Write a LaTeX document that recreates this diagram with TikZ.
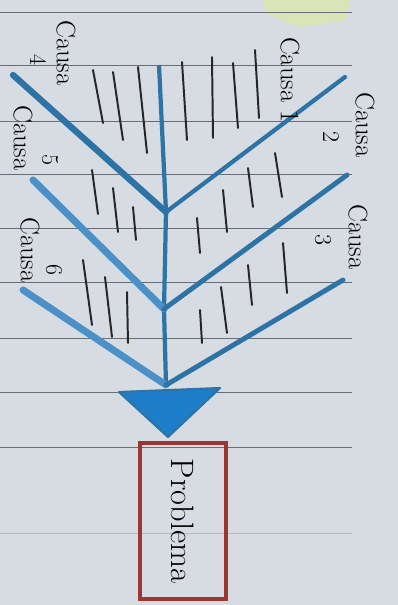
\documentclass[tikz,border=0pt]{standalone}
\usepackage{tikz}
\usepackage{xcolor}
\usetikzlibrary{positioning}
\definecolor{paperGray}{RGB}{214,220,226}
\definecolor{ruleGray}{RGB}{105,110,118}
\definecolor{boneBlue}{RGB}{45,115,165}
\definecolor{paleBlue}{RGB}{75,145,200}
\definecolor{headBlue}{RGB}{30,125,200}
\definecolor{boxRed}{RGB}{155,55,50}
\definecolor{markerYellow}{RGB}{222,240,120}

\begin{document}
\begin{tikzpicture}[x=0.025cm, y=-0.025cm,
			ruling/.style={
				ruleGray,
				line width=0.7pt
			},
			spine/.style={
				boneBlue,
				line width=3pt
			},
			bone/.style={
				boneBlue,
				line width=3.5pt,
				line cap=round
			},
			softbone/.style={
				paleBlue,
				line width=5pt,
				line cap=round
			},
			rib/.style={
				black!85,
				line width=1.4pt,
				line cap=round
			},
			cause/.style={
				rotate=-90,
				inner sep=0pt,
				font=\fontsize{19}{22}\selectfont
			},
			num/.style={
				rotate=-90,
				inner sep=0pt,
				font=\fontsize{17}{20}\selectfont
			},
			problembox/.style={
				rotate=-90,
				draw=boxRed,
				line width=3.5pt,
				minimum width=3.9cm,
				minimum height=2.15cm,
				inner sep=0pt,
				font=\fontsize{23}{26}\selectfont
			}
			]
			
			% Paper
			\useasboundingbox (0,0) rectangle (398,605);
			\fill[paperGray] (0,0) rectangle (398,605);
			\fill[markerYellow, opacity=0.4] (262,0) -- (350,0) -- (346,20) -- (300,27) -- (266,14) -- cycle;
			
			% Ruled lines
			\draw[ruling] (0,12) -- (352,12);
			\draw[ruling] (0,65) -- (352,65);
			\draw[ruling] (0,121) -- (352,121);
			\draw[ruling] (0,174) -- (352,174);
			\draw[ruling] (0,228) -- (352,228);
			\draw[ruling] (0,282) -- (352,282);
			\draw[ruling] (0,338) -- (352,338);
			\draw[ruling] (0,392) -- (352,392);
			\draw[ruling] (0,447) -- (352,447);
			\draw[ruling, opacity=0.3] (0,533) -- (352,533);
			
			% Spine and joints
			\coordinate (spineTop) at (159,65);
			\coordinate (jointA) at (166,212);
			\coordinate (jointB) at (164,309);
			\coordinate (jointC) at (166,385);
			
			% Bone ends
			\coordinate (endFour) at (13,75);
			\coordinate (endTwo) at (345,77);
			\coordinate (endFive) at (33,180);
			\coordinate (endThree) at (347,175);
			\coordinate (endSix) at (23,290);
			\coordinate (endLow) at (343,280);
			
			% Head
			\coordinate (headL) at (119,392);
			\coordinate (headR) at (220,388);
			\coordinate (headTip) at (168,437);
			
			% Ribs
			\draw[rib] (93,70) -- (103,123);
			\draw[rib] (113,72) -- (123,140);
			\draw[rib] (138,67) -- (147,153);
			\draw[rib] (182,62) -- (187,140);
			\draw[rib] (212,57) -- (213,138);
			\draw[rib] (233,63) -- (238,128);
			\draw[rib] (255,50) -- (259,118);
			\draw[rib] (92,170) -- (98,214);
			\draw[rib] (113,188) -- (118,232);
			\draw[rib] (133,207) -- (136,240);
			\draw[rib] (275,153) -- (282,197);
			\draw[rib] (248,168) -- (253,207);
			\draw[rib] (223,190) -- (227,232);
			\draw[rib] (197,218) -- (200,253);
			\draw[rib] (83,260) -- (92,325);
			\draw[rib] (105,277) -- (112,337);
			\draw[rib] (127,292) -- (128,343);
			\draw[rib] (283,243) -- (287,293);
			\draw[rib] (248,265) -- (252,305);
			\draw[rib] (221,287) -- (227,333);
			\draw[rib] (200,310) -- (202,343);
			
			% Bones
			\draw[spine] (spineTop) -- (jointA) -- (jointB) -- (jointC);
			\draw[bone, line width=4.5pt] (endFour) -- (jointA);
			\draw[bone, line width=3pt] (endTwo) -- (jointA);
			\draw[softbone] (endFive) -- (jointB);
			\draw[bone] (endThree) -- (jointB);
			\draw[softbone] (endSix) -- (jointC);
			\draw[bone] (endLow) -- (jointC);
			
			% Head triangle
			\filldraw[fill=headBlue, draw=boneBlue, line width=1.5pt, line join=round] (headL) -- (headR) -- (headTip) -- cycle;
			
			% Problem box
			\node[problembox] (problem) at (183,521) {Problema};
			
			% Cause labels
			\node[cause] (causeOne) at (290,80) {Causa 1};
			\node[cause] (causeTwo) at (365,125) {Causa};
			\node[num] (numTwo) at (331,137) {2};
			\node[cause] (causeThree) at (358,237) {Causa};
			\node[num] (numThree) at (323,240) {3};
			\node[cause] (causeFour) at (66,53) {Causa};
			\node[num] (numFour) at (38,60) {4};
			\node[cause] (causeFive) at (23,138) {Causa};
			\node[num] (numFive) at (50,160) {5};
			\node[cause] (causeSix) at (30,250) {Causa};
			\node[num] (numSix) at (54,270) {6};
			
		\end{tikzpicture}
\end{document}
